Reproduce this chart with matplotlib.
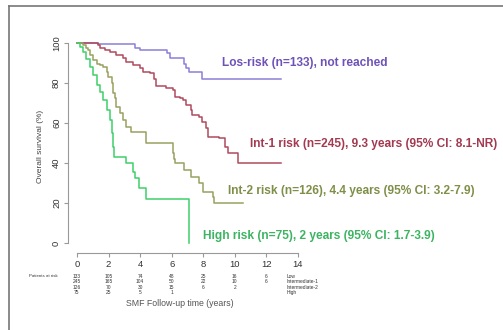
import matplotlib
matplotlib.use("Agg")
import matplotlib.pyplot as plt
from matplotlib.lines import Line2D

plt.rcParams['font.family'] = ['Liberation Sans', 'DejaVu Sans']

# step times (years) and survival (%)
low_t = [0, 1.3, 2.3, 3.7, 4.0, 5.7, 5.9, 6.8, 6.9, 7.1, 7.95, 12.9]
low_s = [100, 99.7, 99.3, 97.3, 96.5, 94.8, 92.7, 89.3, 87.5, 85.7, 81.8, 81.8]

int1_t = [0, 1.35, 1.45, 1.8, 2.1, 2.5, 2.9, 3.1, 3.55, 4.0, 4.2, 4.6, 4.85, 5.0,
          5.65, 6.1, 6.2, 6.5, 6.7, 6.9, 7.2, 7.3, 7.75, 7.9, 8.2, 8.3, 9.0, 9.35,
          9.55, 10.2, 12.9]
int1_s = [100, 99.2, 97.7, 96.7, 95.7, 94, 92.3, 90.7, 89, 87.3, 85.7, 84.8, 82, 78.5,
          77.3, 76.5, 73.2, 72.3, 71.5, 69, 66.5, 64, 63.2, 60.7, 57.3, 53.2, 52.3, 48.2,
          44.8, 40, 40]

int2_t = [0, 0.4, 0.55, 0.7, 0.85, 1.03, 1.24, 1.45, 1.66, 1.87, 1.98, 2.19, 2.29,
          2.4, 2.5, 2.7, 2.92, 3.13, 3.4, 4.35, 4.4, 6.08, 6.13, 6.18, 6.8, 7.24,
          7.76, 7.98, 8.6, 8.7, 10.5]
int2_s = [100, 99, 97.5, 96.3, 94, 91.3, 89.7, 89, 88, 85.7, 83.2, 79.8, 74.8,
          72.3, 68.2, 64.8, 61.5, 58.2, 55.7, 54, 49.8, 44.8, 42, 39.8, 36.5, 33.2,
          29.8, 25.7, 23.2, 19.8, 19.8]

high_t = [0, 0.2, 0.4, 0.6, 0.8, 1.03, 1.24, 1.45, 1.66, 1.87, 2.08, 2.19, 2.27,
          2.32, 3.13, 3.55, 3.7, 3.9, 4.4, 7.1, 7.1]
high_s = [100, 98, 95.5, 92.2, 88, 83.8, 78.8, 75.5, 71.3, 66.3, 61.3, 54.8, 48.2,
          43.2, 39.8, 35.7, 32.3, 27.3, 21.8, 21.8, 0]

groups = ["Low", "Intermediate-1", "Intermediate-2", "High"]
labels = ["Los-risk (n=133), not reached",
          "Int-1 risk (n=245), 9.3 years (95% CI: 8.1-NR)",
          "Int-2 risk (n=126), 4.4 years (95% CI: 3.2-7.9)",
          "High risk (n=75), 2 years (95% CI: 1.7-3.9)"]
label_xy = [(9.2, 90), (10.95, 49.3), (9.55, 26.2), (8.0, 3.5)]

at_risk_times = [0, 2, 4, 6, 8, 10, 12]
at_risk = [[133, 105, 74, 48, 25, 16, 6],
           [245, 165, 104, 50, 22, 10, 6],
           [126, 70, 30, 15, 6, 2],
           [75, 25, 5, 1]]

line_colors = ["#8c80d8", "#b04a5c", "#9aa060", "#3fd06a"]
text_colors = ["#6e52b8", "#a23a50", "#7f8f48", "#3cb462"]

fig = plt.figure(figsize=(5.03, 3.30), dpi=100)
W, H = 503, 330
ax = fig.add_axes([68 / W, 1 - 253 / H, (500 - 68) / W, (253 - 39) / H])
ax.set_xlim(-0.57, 26.8)
ax.set_ylim(-5, 102)

curves = [(low_t, low_s), (int1_t, int1_s), (int2_t, int2_s), (high_t, high_s)]
for (t, s), c in zip(curves, line_colors):
    ax.step(t, s, where="post", color=c, lw=1.1)

for txt, (x, y), c in zip(labels, label_xy, text_colors):
    ax.text(x, y, txt, color=c, fontsize=8.6, fontweight="bold", va="center")

for side in ["top", "right"]:
    ax.spines[side].set_visible(False)
ax.spines["left"].set_bounds(0, 100)
ax.spines["bottom"].set_bounds(0, 14)
ax.spines["bottom"].set_position(("data", -5))
for side in ["left", "bottom"]:
    ax.spines[side].set_color("#999999")
    ax.spines[side].set_linewidth(0.8)

ax.set_yticks([0, 20, 40, 60, 80, 100])
ax.set_yticklabels(["0", "20", "40", "60", "80", "100"], rotation=90, va="center")
ax.set_xticks(range(0, 15, 2))
ax.tick_params(axis="both", colors="#999999", labelcolor="#333333", labelsize=6.8,
               length=3, width=0.8, pad=2)
ax.set_ylabel("Overall survival (%)", fontsize=6, color="#444444", labelpad=6)

# numbers at risk
rows_y = [-16.5, -19.3, -22.1, -24.9]
ax.text(-1.2, rows_y[0], "Patients at risk", fontsize=3.2, color="#333333",
        ha="right", va="center")
for row, y, g in zip(at_risk, rows_y, groups):
    for t, n in zip(at_risk_times, row):
        ax.text(t, y, str(n), fontsize=3.5, color="#333333", ha="center", va="center")
    ax.text(13.3, y, g, fontsize=3.5, color="#333333", ha="left", va="center")

ax.text(6.5, -30.5, "SMF Follow-up time (years)", fontsize=6.3, color="#555555",
        ha="center", va="center")

# outer frame of the slide
fig.add_artist(Line2D([9 / W, 1], [1 - 6 / H, 1 - 6 / H], color="#777777", lw=1.2,
                      transform=fig.transFigure))
fig.add_artist(Line2D([9 / W, 9 / W], [0, 1 - 6 / H], color="#777777", lw=1.2,
                      transform=fig.transFigure))

fig.savefig("out.png", dpi=100)
